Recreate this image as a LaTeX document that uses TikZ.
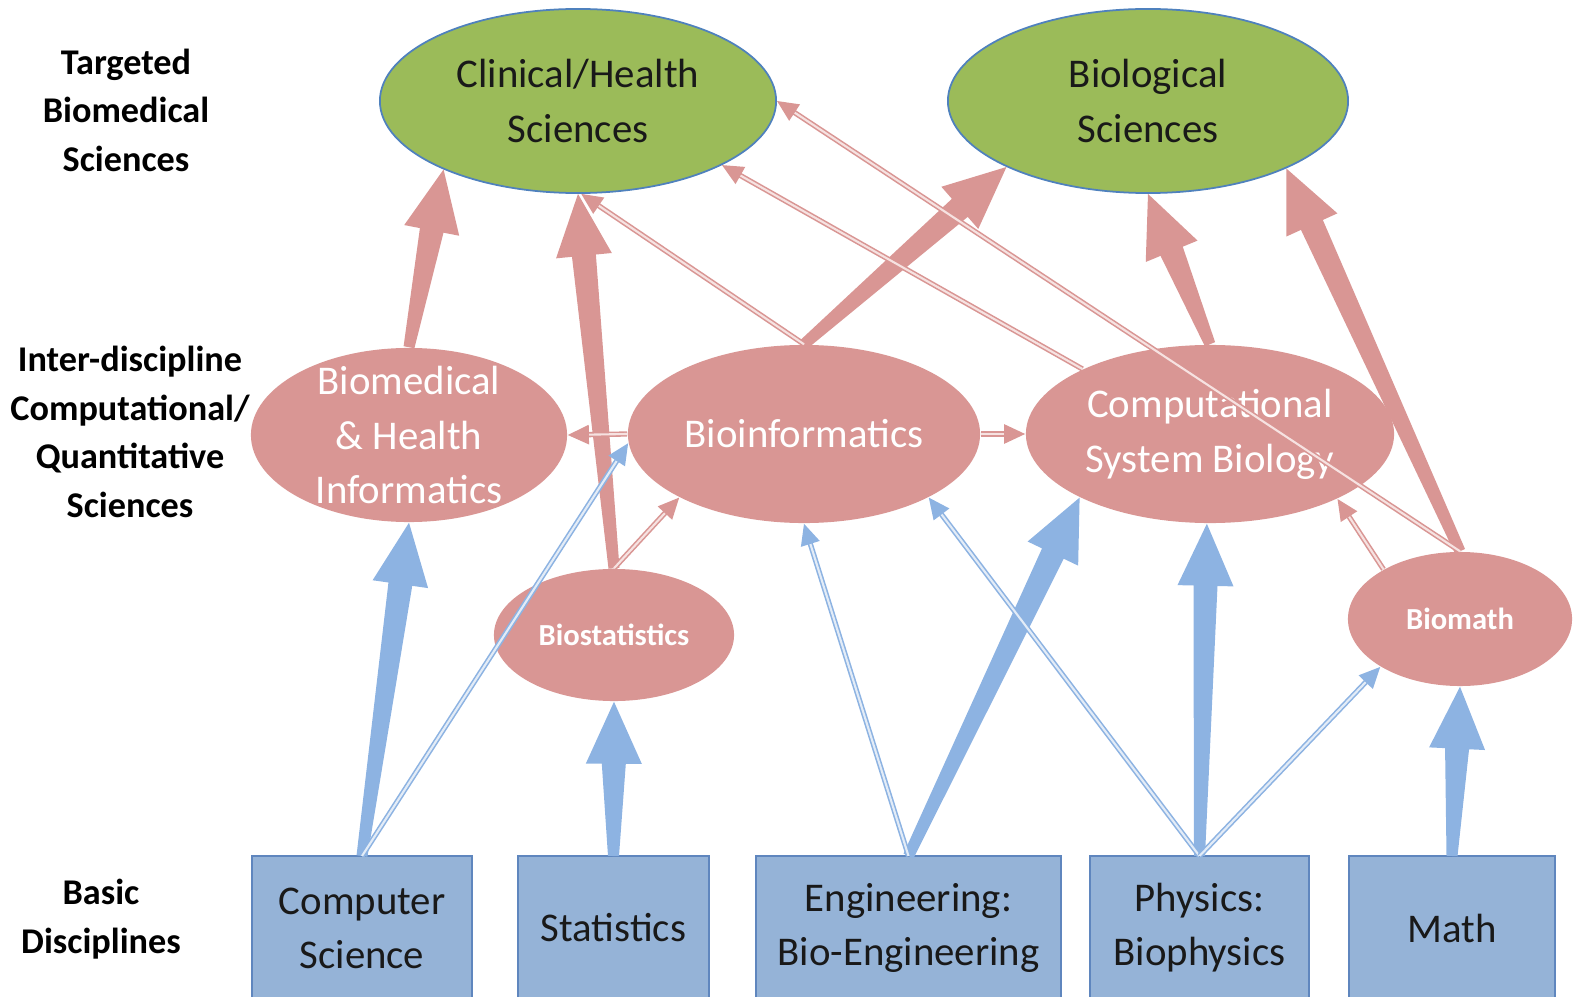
\documentclass[tikz,border=0pt]{standalone}
\usepackage{fontspec}
\setmainfont{Carlito}
\usetikzlibrary{calc,shapes.geometric,arrows.meta}

\definecolor{leafgreen}{HTML}{9BBB59}
\definecolor{edgeblue}{HTML}{4F81BD}
\definecolor{rosefill}{HTML}{D99694}
\definecolor{roseinner}{HTML}{F6E2E1}
\definecolor{boxblue}{HTML}{95B3D7}
\definecolor{boxedge}{HTML}{5F86BE}
\definecolor{skyarrow}{HTML}{8DB3E2}
\definecolor{skyinner}{HTML}{E3ECF7}

% block arrow with a widening shaft, drawn from #2 to #3
\newcommand{\fatarrow}[3]{%
  \coordinate (fa-s) at (#2);
  \coordinate (fa-e) at (#3);
  \coordinate (fa-h) at ($(fa-e)!0.62cm!(fa-s)$);
  \fill[#1] ($(fa-s)!0.055cm!90:(fa-e)$) -- ($(fa-h)!0.12cm!90:(fa-e)$)
    -- ($(fa-h)!0.28cm!90:(fa-e)$) -- (fa-e)
    -- ($(fa-h)!0.28cm!-90:(fa-e)$) -- ($(fa-h)!0.12cm!-90:(fa-e)$)
    -- ($(fa-s)!0.055cm!-90:(fa-e)$) -- cycle;
}

\tikzset{
  level/.style={align=center, font=\bfseries\fontsize{10.3}{13.8}\selectfont},
  sci/.style={ellipse, draw=edgeblue, line width=0.5pt, fill=leafgreen, inner sep=-0.6cm,
    align=center, text=black!90, font=\fontsize{11.6}{15.4}\selectfont},
  inter/.style={ellipse, fill=rosefill, inner sep=-0.7cm, align=center, text=white,
    font=\fontsize{11.6}{15.6}\selectfont},
  bridge/.style={ellipse, fill=rosefill, inner sep=-0.3cm, text=white,
    font=\bfseries\fontsize{8.7}{10}\selectfont},
  basic/.style={rectangle, draw=boxedge, line width=0.5pt, fill=boxblue, anchor=north,
    minimum height=1.44cm, outer sep=0pt, align=center, text=black!90,
    font=\fontsize{11.6}{15.4}\selectfont},
  thinrose/.style={draw=rosefill, line width=0.45pt, double=roseinner, double distance=0.6pt,
    -{Triangle[length=6pt,width=5.5pt]}},
  thinsky/.style={draw=skyarrow, line width=0.45pt, double=skyinner, double distance=0.6pt,
    -{Triangle[length=6pt,width=5.5pt]}}
}

\begin{document}
\begin{tikzpicture}[x=0.01cm, y=-0.01cm]
  \useasboundingbox (0,0) rectangle (1581,997);

  % captions of the three levels
  \node[level] (lvltop) at (126,110) {Targeted\\Biomedical\\Sciences};
  \node[level] (lvlmid) at (130,432) {Inter-discipline\\Computational/\\Quantitative\\Sciences};
  \node[level] (lvlbot) at (101,919) {Basic\\Disciplines};

  % targeted sciences
  \node[sci, minimum width=3.96cm, minimum height=1.84cm] (clin) at (578,101) {Clinical/Health\\Sciences};
  \node[sci, minimum width=4.0cm, minimum height=1.84cm] (biol) at (1148,101) {Biological\\Sciences};

  % inter-disciplines
  \node[inter, minimum width=3.16cm, minimum height=1.74cm] (bhi) at (409,435) {Biomedical\\\& Health\\Informatics};
  \node[inter, minimum width=3.52cm, minimum height=1.78cm] (binf) at (804,434) {Bioinformatics};
  \node[inter, minimum width=3.68cm, minimum height=1.78cm] (csb) at (1210,434) {Computational\\System Biology};
  \node[bridge, minimum width=2.4cm, minimum height=1.32cm] (bstat) at (614,635) {Biostatistics};
  \node[bridge, minimum width=2.24cm, minimum height=1.34cm] (bmath) at (1460,619) {Biomath};

  % basic disciplines
  \node[basic, minimum width=2.2cm] (cs) at (362,856) {Computer\\Science};
  \node[basic, minimum width=1.91cm] (stat) at (613.5,856) {Statistics};
  \node[basic, minimum width=3.05cm] (eng) at (908.5,856) {Engineering:\\Bio-Engineering};
  \node[basic, minimum width=2.19cm] (phys) at (1199.5,856) {Physics:\\Biophysics};
  \node[basic, minimum width=2.06cm] (math) at (1452,856) {Math};

  % strong links
  \foreach \a/\b in {bhi.north/clin.207, bstat.north/clin.south, binf.north/biol.205,
                     csb.north/biol.south, bmath.north/biol.334}
    \fatarrow{rosefill}{\a}{\b};
  \foreach \a/\b in {cs.north/bhi.south, stat.north/bstat.south, eng.north/csb.206,
                     phys.north/csb.268, math.north/bmath.south}
    \fatarrow{skyarrow}{\a}{\b};

  % weak links
  \foreach \a/\b in {binf.north/clin.272, csb.153/clin.336, bmath.north/clin.east,
                     bmath.147/csb.333, bstat.north/binf.207, binf.west/bhi.east,
                     binf.east/csb.west}
    \draw[thinrose] (\a) -- (\b);
  \foreach \a/\b in {cs.north/binf.183, eng.north/binf.south, phys.north/binf.333,
                     phys.north/bmath.211}
    \draw[thinsky] (\a) -- (\b);
\end{tikzpicture}
\end{document}
